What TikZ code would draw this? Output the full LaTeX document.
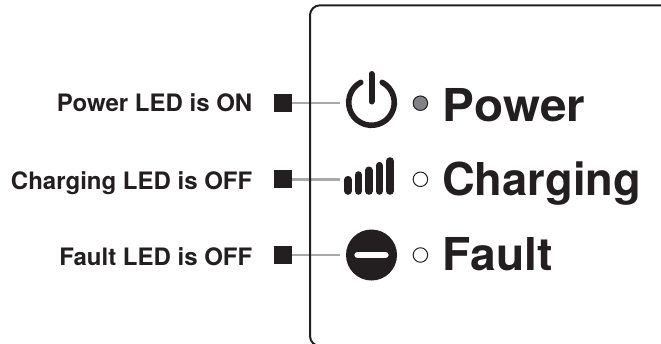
\documentclass[tikz,border=0pt]{standalone}
\usepackage{fontspec}
\usepackage{graphicx}
\setmainfont{TeX Gyre Heros}
\definecolor{ink}{HTML}{231F20}
\definecolor{lead}{HTML}{A7A9AC}
\definecolor{ledgray}{HTML}{808285}
\tikzset{
  x=1pt,y=-1pt,
  caption/.style={font=\bfseries\fontsize{24}{26}\selectfont,text=ink,anchor=base east,inner sep=0pt},
  ledname/.style={font=\bfseries\fontsize{45.3}{50}\selectfont\addfontfeature{Kerning=Off},text=ink,anchor=base west,inner sep=0pt},
  marker/.style={fill=ink,minimum size=18pt,inner sep=0pt,draw=none},
  leadline/.style={draw=lead,line width=2.6pt},
  led/.style={circle,draw=ink,line width=1pt,minimum size=14.5pt,inner sep=0pt},
  bar/.style={draw=ink,line width=7.6pt,line cap=round},
}
\begin{document}
\begin{tikzpicture}
\useasboundingbox (0,0) rectangle (661,343);
\clip (0,0) rectangle (661,343);
% markers and leads
\node[marker] (m1) at (283,103) {};
\node[marker] (m2) at (283,179.3) {};
\node[marker] (m3) at (283,255) {};
\coordinate (e1) at (340,103);
\coordinate (e2) at (340,179.3);
\coordinate (e3) at (340,255);
\draw[leadline] (m1.east) -- (e1);
\draw[leadline] (m2.east) -- (e2);
\draw[leadline] (m3.east) -- (e3);
% panel
\draw[ink,line width=2pt,rounded corners=10pt] (670,5.3) -- (310,5.3) -- (310,346) -- (670,346);
% captions
\node[caption] (c1) at (252.5,111) {Power LED is ON};
\node[caption] (c2) at (252.5,189) {Charging LED is OFF};
\node[caption] (c3) at (252.5,265) {Fault LED is OFF};
% power icon
\draw[ink,line width=5.6pt,line cap=round] (371.5,102.5) ++(-62:22.8) arc[start angle=-62,end angle=242,radius=22.8];
\draw[ink,line width=6pt,line cap=round] (371.5,74) -- (371.5,101.5);
% charging icon
\draw[bar] (348,179.7) -- (348,191);
\draw[bar] (358.4,175) -- (358.4,191);
\draw[bar] (368.8,170.3) -- (368.8,191);
\draw[bar] (379.3,165.7) -- (379.3,191);
\draw[bar] (389.8,161) -- (389.8,191);
% fault icon
\fill[ink] (371.5,255) circle[radius=25.5];
\draw[white,line width=6.7pt,line cap=round] (357.7,255) -- (385.3,255);
% LEDs
\node[led,fill=ledgray] (l1) at (420.4,103.2) {};
\node[led,fill=white] (l2) at (420.4,179.3) {};
\node[led,fill=white] (l3) at (420.4,255) {};
% names
\node[ledname] (n1) at (442,121) {\scalebox{1.053}[1]{Power}};
\node[ledname] (n2) at (442,195.7) {Charging};
\node[ledname] (n3) at (442,270) {\scalebox{1.02}[1]{Fault}};
\end{tikzpicture}
\end{document}
